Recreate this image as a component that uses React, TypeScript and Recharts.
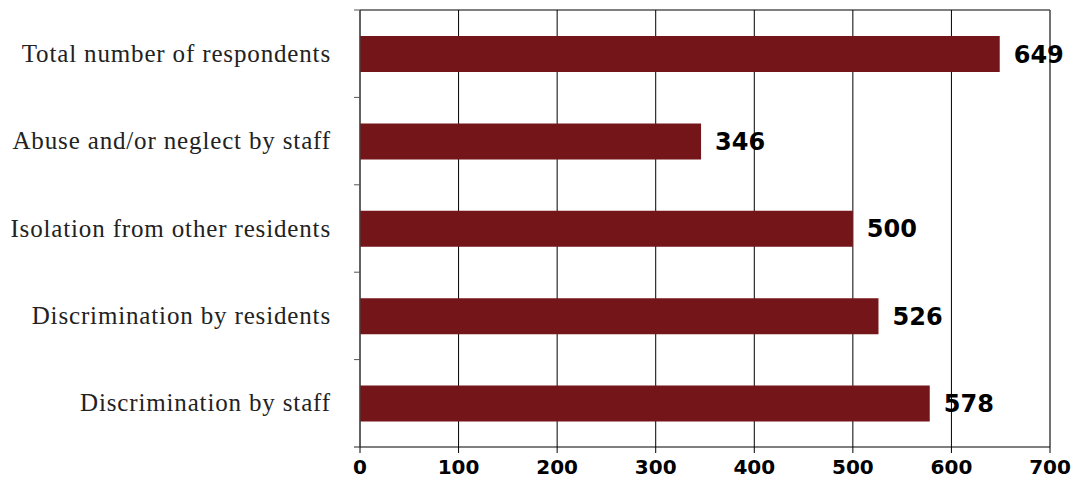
import React from 'react';
import { BarChart, Bar, XAxis, YAxis, CartesianGrid, ReferenceLine, LabelList } from 'recharts';

const categories = [
  'Total number of respondents',
  'Abuse and/or neglect by staff',
  'Isolation from other residents',
  'Discrimination by residents',
  'Discrimination by staff',
];
const counts = [649, 346, 500, 526, 578];
const xTicks = [0, 100, 200, 300, 400, 500, 600, 700];

const data = categories.map((name, i) => ({ name, value: counts[i] }));

const TICK_SIZE = 6;
const TICK_MARGIN = 23;

const YTick = (props: any) => {
  const { x, y, payload, index } = props;
  const half = payload && payload.offset ? payload.offset : 0;
  const axisX = x + TICK_SIZE + TICK_MARGIN;
  const last = index === categories.length - 1;
  return (
    <g>
      <line x1={axisX - TICK_SIZE} x2={axisX} y1={y - half} y2={y - half} stroke="#555" strokeWidth={1} />
      {last && (
        <line x1={axisX - TICK_SIZE} x2={axisX} y1={y + half} y2={y + half} stroke="#222" strokeWidth={1} />
      )}
      <text
        x={x}
        y={y}
        dy={8}
        textAnchor="end"
        fill="#222"
        fontFamily="'Liberation Serif', serif"
        fontSize={25}
        letterSpacing={0.85}
      >
        {payload.value}
      </text>
    </g>
  );
};

export default function App() {
  return (
    <div style={{ position: 'absolute', left: 0, top: 0 }}>
      <BarChart
        width={1073}
        height={479}
        data={data}
        layout="vertical"
        margin={{ top: 10, right: 23, left: 0, bottom: 0 }}
      >
        <CartesianGrid
          stroke="#000"
          strokeWidth={1}
          horizontalCoordinatesGenerator={({ offset }: any) => [offset.top]}
        />
        <XAxis
          type="number"
          domain={[0, 700]}
          ticks={xTicks}
          height={32}
          axisLine={{ stroke: '#000' }}
          tickLine={{ stroke: '#000' }}
          tickSize={6}
          tickMargin={7}
          tick={{ fontFamily: "'DejaVu Sans', sans-serif", fontWeight: 'bold', fontSize: 20, fill: '#000' }}
        />
        <YAxis
          type="category"
          dataKey="name"
          width={360}
          axisLine={{ stroke: '#444' }}
          tickLine={false}
          tickSize={TICK_SIZE}
          tickMargin={TICK_MARGIN}
          tick={<YTick />}
          interval={0}
        />
        <ReferenceLine x={700} stroke="#666" strokeWidth={1} />
        <Bar dataKey="value" fill="#741619" barSize={36} isAnimationActive={false}>
          <LabelList
            dataKey="value"
            position="right"
            offset={14}
            fill="#000"
            fontFamily="'DejaVu Sans', sans-serif"
            fontWeight="bold"
            fontSize={24}
          />
        </Bar>
      </BarChart>
    </div>
  );
}
